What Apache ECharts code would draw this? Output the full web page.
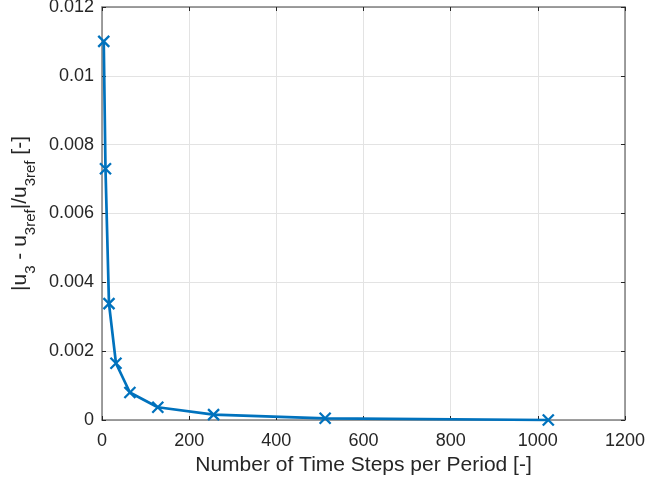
<!DOCTYPE html>
<html>
<head>
<meta charset="utf-8">
<script src="https://cdn.jsdelivr.net/npm/echarts@6/dist/echarts.min.js"></script>
<style>
html,body{margin:0;padding:0;background:#fff;}
#c{width:646px;height:485px;}
</style>
</head>
<body>
<div id="c"></div>
<script>
var timeSteps = [4, 8, 16, 32, 64, 128, 256, 512, 1024];
var relError = [0.0110, 0.0073, 0.00338, 0.00165, 0.00080, 0.00037, 0.000155, 0.00005, 0.0000];
var xTitle = 'Number of Time Steps per Period [-]';
var yTitle = '|u{s|3} - u{s|3ref}|/u{s|3ref} [-]';

var font = "'Liberation Sans', Arial, Helvetica, sans-serif";
var textColor = '#262626';
var boxColor = '#7f7f7f';
var gridColor = '#e3e3e3';

var chart = echarts.init(document.getElementById('c'), null, {renderer: 'canvas'});
var data = timeSteps.map(function (x, i) { return [x, relError[i]]; });

chart.setOption({
  animation: false,
  backgroundColor: '#ffffff',
  grid: {left: 102, right: 21, top: 7, bottom: 65, show: false, containLabel: false, outerBoundsMode: 'none'},
  xAxis: [{
    type: 'value', min: 0, max: 1200, interval: 200, position: 'bottom',
    name: xTitle, nameLocation: 'middle', nameGap: 29,
    nameTextStyle: {fontFamily: font, fontSize: 21, color: textColor},
    axisLine: {show: true, onZero: false, lineStyle: {color: boxColor, width: 1.5}},
    axisTick: {show: true, inside: true, length: 4, lineStyle: {color: textColor, width: 1}},
    axisLabel: {fontFamily: font, fontSize: 18, color: textColor, margin: 12,
      formatter: function (v) { return String(v); }},
    splitLine: {show: true, lineStyle: {color: gridColor, width: 1}}
  }, {
    type: 'value', min: 0, max: 1200, interval: 200, position: 'top',
    axisLine: {show: true, onZero: false, lineStyle: {color: boxColor, width: 1.5}},
    axisTick: {show: true, inside: true, length: 4, lineStyle: {color: textColor, width: 1}},
    axisLabel: {show: false}, splitLine: {show: false}
  }],
  yAxis: [{
    type: 'value', min: 0, max: 0.012, interval: 0.002, position: 'left',
    name: yTitle, nameLocation: 'middle', nameGap: 60, nameRotate: 90,
    nameTextStyle: {
      fontFamily: font, fontSize: 21, color: textColor, lineHeight: 36,
      rich: {s: {fontFamily: font, fontSize: 15, color: textColor, lineHeight: 15, verticalAlign: 'bottom'}}
    },
    axisLine: {show: true, onZero: false, lineStyle: {color: boxColor, width: 1.5}},
    axisTick: {show: true, inside: true, length: 4, lineStyle: {color: textColor, width: 1}},
    axisLabel: {fontFamily: font, fontSize: 18, color: textColor, margin: 8,
      formatter: function (v) { return String(+v.toFixed(4)); }},
    splitLine: {show: true, lineStyle: {color: gridColor, width: 1}}
  }, {
    type: 'value', min: 0, max: 0.012, interval: 0.002, position: 'right',
    axisLine: {show: true, onZero: false, lineStyle: {color: boxColor, width: 1.5}},
    axisTick: {show: true, inside: true, length: 4, lineStyle: {color: textColor, width: 1}},
    axisLabel: {show: false}, splitLine: {show: false}
  }],
  series: [{
    type: 'line',
    xAxisIndex: 0, yAxisIndex: 0,
    data: data,
    symbol: 'path://M0,0L10,10M10,0L0,10',
    symbolSize: 11,
    showAllSymbol: true,
    lineStyle: {color: '#0072BD', width: 2.7},
    itemStyle: {color: 'rgba(0,0,0,0)', borderColor: '#0072BD', borderWidth: 2.3},
    clip: false
  }]
});
</script>
</body>
</html>
